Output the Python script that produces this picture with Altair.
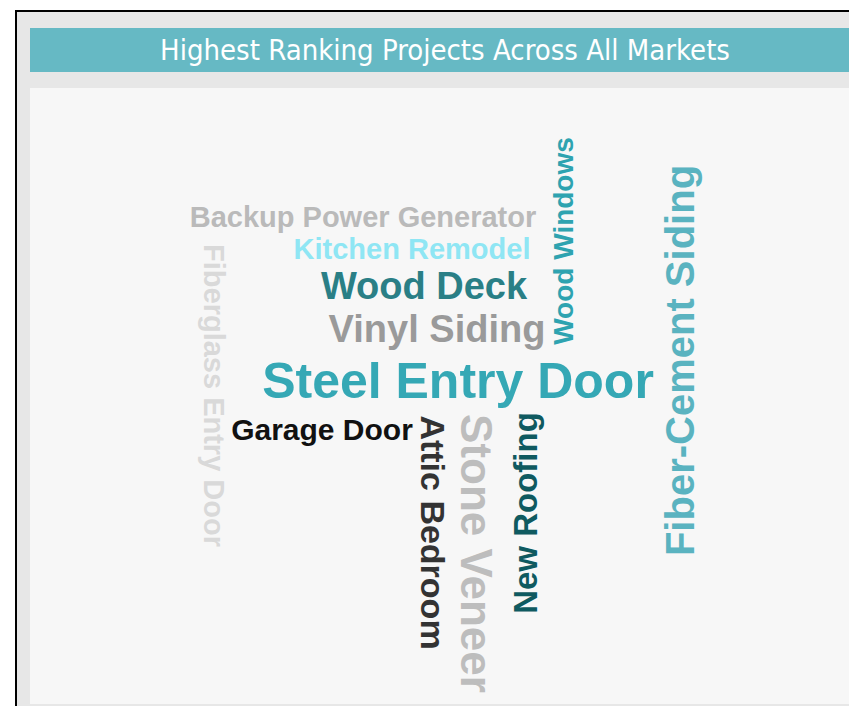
import altair as alt
import pandas as pd

# ---- data -------------------------------------------------------------
words = [
    "Steel Entry Door", "Stone Veneer", "Fiber-Cement Siding", "Wood Deck",
    "Vinyl Siding", "Attic Bedroom", "New Roofing", "Garage Door",
    "Backup Power Generator", "Kitchen Remodel", "Fiberglass Entry Door",
    "Wood Windows",
]
scores = [50, 44, 40, 38, 38, 34, 33, 30, 29, 29, 29, 28]
colors = [
    "#35a8b5", "#bdbdbd", "#5ab3c0", "#2a7f86",
    "#9a9a9a", "#333333", "#0f5a60", "#111111",
    "#bababa", "#8fe6f4", "#d9d9d9", "#2ea3b0",
]
# word-cloud layout (page coordinates of each word's anchor)
word_x = [458, 460.5, 694, 424, 437, 421, 537, 322, 363, 412, 204, 573]
word_y = [398, 553.5, 360.5, 299, 342, 532.5, 513, 440, 227, 259, 395.5, 241]
word_angle = [0, 90, 270, 0, 0, 90, 270, 0, 0, 0, 90, 270]

title_text = "Highest Ranking Projects Across All Markets"

df = pd.DataFrame({
    "word": words, "score": scores, "color": colors,
    "x": word_x, "y": word_y, "angle": word_angle,
})

W, H = 841, 698
xs = alt.Scale(domain=[8, 8 + W])
ys = alt.Scale(domain=[8, 8 + H], reverse=True)

base = alt.Chart(df)
one = "datum.word == 'Steel Entry Door'"

frame_bg = base.mark_rect(color="#e7e7e7", stroke="#000000", strokeWidth=2, clip=True).encode(
    x=alt.value(8), x2=alt.value(W + 40), y=alt.value(3), y2=alt.value(H + 40)
).transform_filter(one)

title_bar = base.mark_rect(color="#66b9c4", clip=True).encode(
    x=alt.value(22), x2=alt.value(W + 40), y=alt.value(20), y2=alt.value(64)
).transform_filter(one)

panel = base.mark_rect(color="#f7f7f7", clip=True).encode(
    x=alt.value(22), x2=alt.value(W + 40), y=alt.value(80), y2=alt.value(H - 2)
).transform_filter(one)

title = alt.Chart(pd.DataFrame({"t": [title_text]})).mark_text(
    font="DejaVu Sans Condensed, Roboto, sans-serif", fontSize=29, color="#ffffff",
    align="center", baseline="middle",
).encode(text="t:N", x=alt.value(437), y=alt.value(43))

cloud = base.mark_text(
    font="Liberation Sans", fontWeight="bold", align="center", baseline="alphabetic"
).encode(
    x=alt.X("x:Q", scale=xs, axis=None),
    y=alt.Y("y:Q", scale=ys, axis=None),
    text="word:N",
    size=alt.Size("score:Q", scale=alt.Scale(domain=[0, 50], range=[0, 50]), legend=None),
    color=alt.Color("color:N", scale=None),
    angle=alt.Angle("angle:Q", scale=None),
)

chart = alt.layer(frame_bg, title_bar, panel, title, cloud).properties(
    width=W, height=H, padding=0, autosize=alt.AutoSizeParams(type="none"),
    background="#ffffff",
).configure_view(stroke=None)

chart.save("out.html", embed_options={"renderer": "svg", "actions": False})
